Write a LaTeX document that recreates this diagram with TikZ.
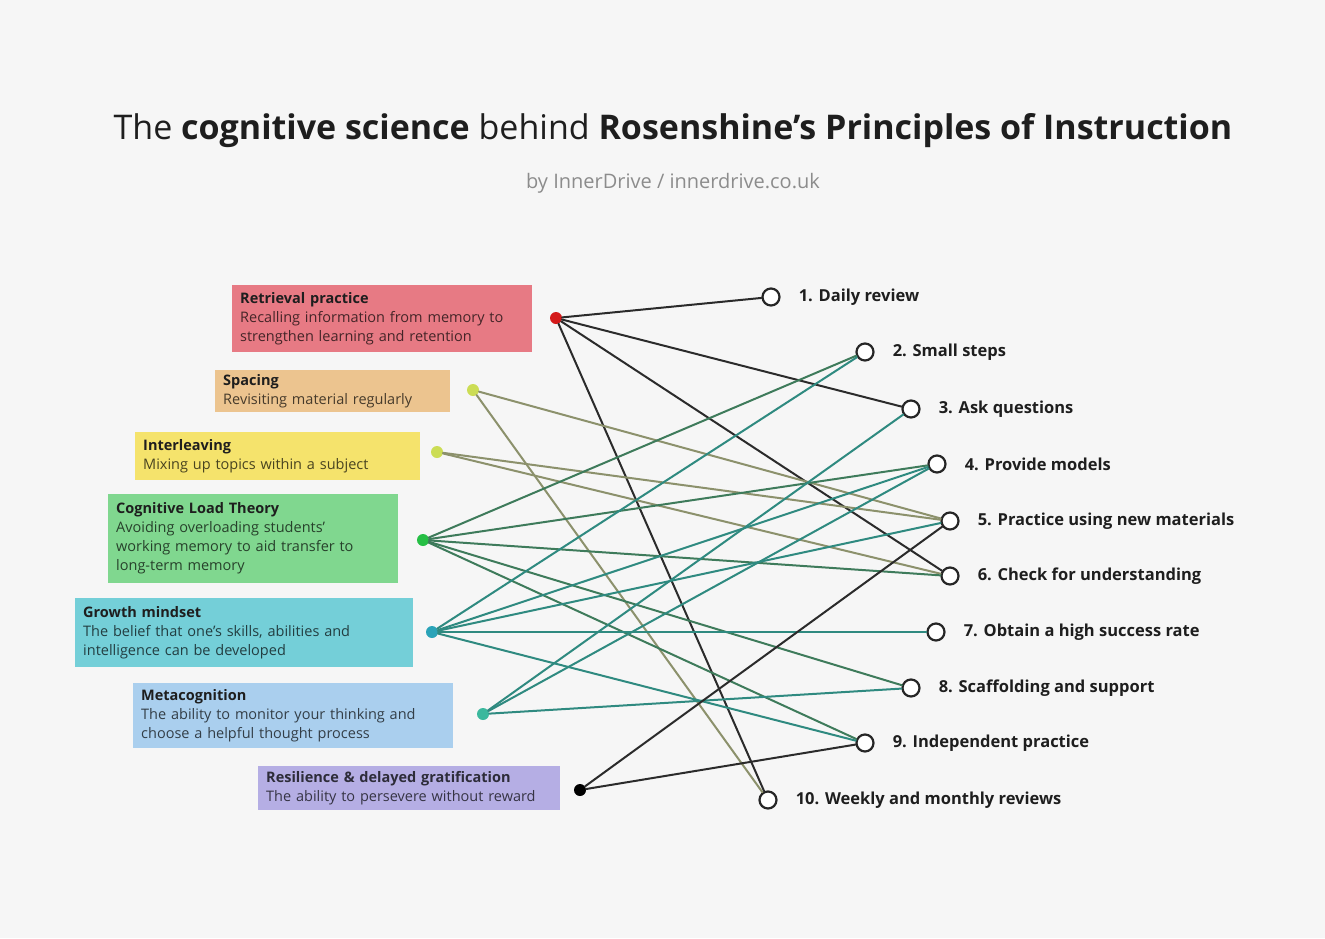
\documentclass[tikz,border=0pt]{standalone}
\usepackage{fontspec}
\setmainfont{Open Sans}
\usetikzlibrary{positioning}
\definecolor{pagegrey}{HTML}{F6F6F6}
\definecolor{inktext}{HTML}{1E1E1E}
\definecolor{subgrey}{HTML}{8C8C8C}
\definecolor{retred}{HTML}{E77A84}
\definecolor{spaorange}{HTML}{ECC48F}
\definecolor{intyellow}{HTML}{F5E36C}
\definecolor{cltgreen}{HTML}{80D78F}
\definecolor{grocyan}{HTML}{74CFD8}
\definecolor{metblue}{HTML}{AACFEE}
\definecolor{reslilac}{HTML}{B5AEE4}
\definecolor{retdot}{HTML}{D41A1A}
\definecolor{spadot}{HTML}{CCDD55}
\definecolor{cltdot}{HTML}{26BF45}
\definecolor{grodot}{HTML}{2AA3B8}
\definecolor{metdot}{HTML}{3BB89D}
\definecolor{darkline}{HTML}{2B2B2B}
\definecolor{oliveline}{HTML}{8C916C}
\definecolor{greenline}{HTML}{3E7B5B}
\definecolor{tealline}{HTML}{2F8A80}

\begin{document}
\begin{tikzpicture}[x=1pt,y=-1pt,
  srcbox/.style={anchor=north west, inner xsep=8pt, inner ysep=2pt, align=left,
    text=inktext, font=\fontsize{14.5}{19}\selectfont},
  srcdot/.style={circle, inner sep=0pt, minimum size=12pt},
  pcircle/.style={circle, draw=black!85, line width=2.2pt, fill=white, inner sep=0pt, minimum size=17pt},
  plabel/.style={anchor=west, inner sep=2pt, text=inktext, font=\fontsize{16.5}{19}\selectfont\bfseries},
  link/.style={line width=2pt, line cap=round}]
\useasboundingbox (0,0) rectangle (1325,938);
\fill[pagegrey] (0,0) rectangle (1325,938);

% Title
\node[text=inktext] (title) at (673,131) {\fontsize{34}{40}\selectfont The \textbf{cognitive science} behind \textbf{Rosenshine's Principles of Instruction}};
\node[text=subgrey] (byline) at (673,183) {\fontsize{20}{22}\selectfont by InnerDrive / innerdrive.co.uk};

% Cognitive science boxes
\node[srcbox, fill=retred, text width=284pt, minimum height=67pt] (ret) at (232,285)
  {\textbf{Retrieval practice}\\ \color{retred!30!black}Recalling information from memory to\\ \color{retred!30!black}strengthen learning and retention};
\node[srcbox, fill=spaorange, text width=219pt, minimum height=42pt] (spa) at (215,370)
  {\textbf{Spacing}\\ \color{spaorange!30!black}Revisiting material regularly};
\node[srcbox, fill=intyellow, text width=269pt, minimum height=48pt] (int) at (135,432)
  {\textbf{Interleaving}\\ \color{intyellow!30!black}Mixing up topics within a subject};
\node[srcbox, fill=cltgreen, text width=274pt, minimum height=89pt] (clt) at (108,494)
  {\textbf{Cognitive Load Theory}\\ \color{cltgreen!30!black}Avoiding overloading students'\\ \color{cltgreen!30!black}working memory to aid transfer to\\ \color{cltgreen!30!black}long-term memory};
\node[srcbox, fill=grocyan, text width=322pt, minimum height=69pt] (gro) at (75,598)
  {\textbf{Growth mindset}\\ \color{grocyan!30!black}The belief that one's skills, abilities and\\ \color{grocyan!30!black}intelligence can be developed};
\node[srcbox, fill=metblue, text width=304pt, minimum height=65pt] (met) at (133,683)
  {\textbf{Metacognition}\\ \color{metblue!30!black}The ability to monitor your thinking and\\ \color{metblue!30!black}choose a helpful thought process};
\node[srcbox, fill=reslilac, text width=286pt, minimum height=44pt] (res) at (258,766)
  {\textbf{\color{reslilac!25!black}Resilience \& delayed gratification}\\ \color{reslilac!30!black}The ability to persevere without reward};

% Dots
\node[srcdot, fill=retdot] (dret) at (556,318) {};
\node[srcdot, fill=spadot] (dspa) at (473,390) {};
\node[srcdot, fill=spadot] (dint) at (437,452) {};
\node[srcdot, fill=cltdot] (dclt) at (423,540) {};
\node[srcdot, fill=grodot] (dgro) at (432,632) {};
\node[srcdot, fill=metdot] (dmet) at (483,714) {};
\node[srcdot, fill=black] (dres) at (580,790) {};

% Principles
\node[pcircle] (p1) at (771,297) {};
\node[pcircle] (p2) at (865,352) {};
\node[pcircle] (p3) at (911,409) {};
\node[pcircle] (p4) at (937,464) {};
\node[pcircle] (p5) at (950,521) {};
\node[pcircle] (p6) at (950,576) {};
\node[pcircle] (p7) at (936,632) {};
\node[pcircle] (p8) at (911,688) {};
\node[pcircle] (p9) at (865,743) {};
\node[pcircle] (p10) at (768,800) {};

\node[plabel, right=16pt of p1] (l1) {1. Daily review};
\node[plabel, right=16pt of p2] (l2) {2. Small steps};
\node[plabel, right=16pt of p3] (l3) {3. Ask questions};
\node[plabel, right=16pt of p4] (l4) {4. Provide models};
\node[plabel, right=16pt of p5] (l5) {5. Practice using new materials};
\node[plabel, right=16pt of p6] (l6) {6. Check for understanding};
\node[plabel, right=16pt of p7] (l7) {7. Obtain a high success rate};
\node[plabel, right=16pt of p8] (l8) {8. Scaffolding and support};
\node[plabel, right=16pt of p9] (l9) {9. Independent practice};
\node[plabel, right=16pt of p10] (l10) {10. Weekly and monthly reviews};

% Links
\draw[link, darkline] (dret) -- (p1);
\draw[link, darkline] (dret) -- (p3);
\draw[link, darkline] (dret) -- (p6);
\draw[link, darkline] (dret) -- (p10);
\draw[link, oliveline] (dspa) -- (p5);
\draw[link, oliveline] (dspa) -- (p10);
\draw[link, oliveline] (dint) -- (p5);
\draw[link, oliveline] (dint) -- (p6);
\draw[link, greenline] (dclt) -- (p2);
\draw[link, greenline] (dclt) -- (p4);
\draw[link, greenline] (dclt) -- (p6);
\draw[link, greenline] (dclt) -- (p8);
\draw[link, greenline] (dclt) -- (p9);
\draw[link, tealline] (dgro) -- (p2);
\draw[link, tealline] (dgro) -- (p4);
\draw[link, tealline] (dgro) -- (p5);
\draw[link, tealline] (dgro) -- (p7);
\draw[link, tealline] (dgro) -- (p9);
\draw[link, tealline] (dmet) -- (p3);
\draw[link, tealline] (dmet) -- (p4);
\draw[link, tealline] (dmet) -- (p8);
\draw[link, darkline] (dres) -- (p5);
\draw[link, darkline] (dres) -- (p9);
\end{tikzpicture}
\end{document}
